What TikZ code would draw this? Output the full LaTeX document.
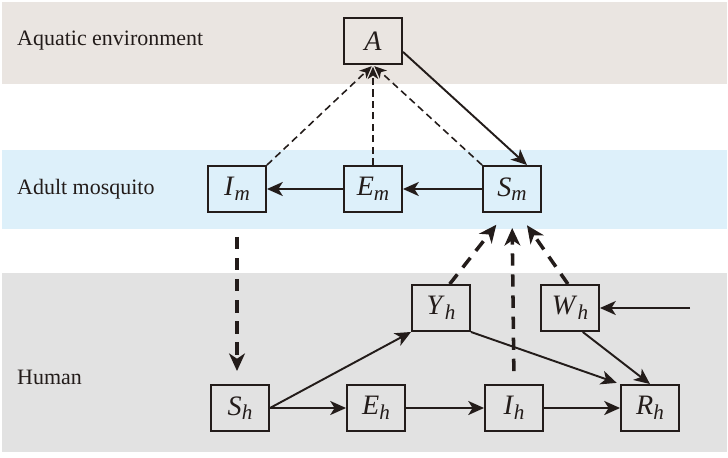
\documentclass[tikz,border=0pt]{standalone}
\usepackage{fontspec}
\setmainfont{Liberation Serif}
\usetikzlibrary{positioning}
\usetikzlibrary{arrows.meta}

\definecolor{aquabg}{RGB}{234,229,225}
\definecolor{mosqbg}{RGB}{221,240,250}
\definecolor{humanbg}{RGB}{226,226,226}
\definecolor{inkcol}{RGB}{35,28,26}
\newcommand{\comp}[2]{\textit{#1}\raisebox{-0.35ex}{\fontsize{12}{14}\selectfont\textit{#2}}}

\begin{document}
\begin{tikzpicture}
\tikzstyle{compart}=[draw=inkcol,line width=1.1pt,minimum width=1.16cm,minimum height=0.92cm,inner sep=0pt,text=inkcol,font=\fontsize{16}{18}\selectfont]
\tikzstyle{flow}=[line width=1.1pt,draw=inkcol,-{Stealth[length=9pt,width=8pt,inset=2.5pt]}]
\tikzstyle{contact}=[line width=0.9pt,draw=inkcol,dash pattern=on 4pt off 2.5pt,-{Stealth[length=7pt,width=6pt,inset=2pt]}]
\tikzstyle{bite}=[line width=2pt,draw=inkcol,dash pattern=on 7pt off 5pt,-{Stealth[length=10pt,width=9pt,inset=3pt]}]
\tikzstyle{bandlabel}=[anchor=west,text=inkcol,font=\fontsize{12.5}{15}\selectfont]
\useasboundingbox (0,0) rectangle (14.56,9.14);
%%%%%%%%%%%%%%%%%%%%%%%%%%%%%%%%%%%%%%%%%%%%%%%%%%%%%%%%%%%%%%%%%%%%%%%%%%%%%%%%%%%%%%%%
%% Draw Bands
%%%%%%%%%%%%%%%%%%%%%%%%%%%%%%%%%%%%%%%%%%%%%%%%%%%%%%%%%%%%%%%%%%%%%%%%%%%%%%%%%%%%%%%%
\fill[aquabg] (0.04,7.46) rectangle (14.54,9.1);
\fill[mosqbg] (0.04,4.56) rectangle (14.54,6.14);
\fill[humanbg] (0.04,0.1) rectangle (14.54,3.68);
\node[bandlabel] (aqualbl) at (0.22,8.32) {Aquatic environment};
\node[bandlabel] (mosqlbl) at (0.22,5.36) {Adult mosquito};
\node[bandlabel] (humanlbl) at (0.22,1.6) {Human};
%%%%%%%%%%%%%%%%%%%%%%%%%%%%%%%%%%%%%%%%%%%%%%%%%%%%%%%%%%%%%%%%%%%%%%%%%%%%%%%%%%%%%%%%
%% Draw Compartments
%%%%%%%%%%%%%%%%%%%%%%%%%%%%%%%%%%%%%%%%%%%%%%%%%%%%%%%%%%%%%%%%%%%%%%%%%%%%%%%%%%%%%%%%
% aquatic stage
\node[compart] (A) at (7.46,8.32) {\textit{A}};
% mosquito
\node[compart] (Im) at (4.74,5.36) {\comp{I}{m}};
\node[compart] (Em) at (7.46,5.36) {\comp{E}{m}};
\node[compart] (Sm) at (10.24,5.36) {\comp{S}{m}};
% human
\node[compart] (Yh) at (8.82,2.98) {\comp{Y}{h}};
\node[compart] (Wh) at (11.40,2.98) {\comp{W}{h}};
\node[compart] (Sh) at (4.80,0.98) {\comp{S}{h}};
\node[compart] (Eh) at (7.52,0.98) {\comp{E}{h}};
\node[compart] (Ih) at (10.28,0.98) {\comp{I}{h}};
\node[compart] (Rh) at (13.00,0.98) {\comp{R}{h}};
\coordinate (Win) at (13.8,2.98);
%%%%%%%%%%%%%%%%%%%%%%%%%%%%%%%%%%%%%%%%%%%%%%%%%%%%%%%%%%%%%%%%%%%%%%%%%%%%%%%%%%%%%%%%

%%%%%%%%%%%%%%%%%%%%%%%%%%%%%%%%%%%%%%%%%%%%%%%%%%%%%%%%%%%%%%%%%%%%%%%%%%%%%%%%%%%%%%%%
%%% Draw connections
%%%%%%%%%%%%%%%%%%%%%%%%%%%%%%%%%%%%%%%%%%%%%%%%%%%%%%%%%%%%%%%%%%%%%%%%%%%%%%%%%%%%%%%%
% egg laying back to the water
\draw[contact,shorten >=1pt] (Im.north east) -- (A.south);
\draw[contact,shorten >=1pt] (Em.north) -- (A.south);
\draw[contact,shorten >=1pt] (Sm.north west) -- (A.south);
\draw[flow] (A.-20) -- (Sm.58);
% mosquito stages
\draw[flow] (Sm) -- (Em);
\draw[flow] (Em) -- (Im);
% bites
\draw[bite,shorten <=0.48cm,shorten >=0.26cm] (Im.south) -- (Im.south |- Sh.north);
\draw[bite,shorten >=0.3cm] (Yh.70) -- (Sm.-105);
\draw[bite,shorten <=0.26cm,shorten >=0.3cm] (Ih.north) -- (Sm.south);
\draw[bite,shorten >=0.3cm] (Wh.95) -- (Sm.-75);
% human stages
\draw[flow] (Sh) -- (Eh);
\draw[flow] (Eh) -- (Ih);
\draw[flow] (Ih) -- (Rh);
\draw[flow] (Sh.east) -- (Yh.south west);
\draw[flow,shorten >=2pt] (Yh.south east) -- (Rh.north west);
\draw[flow] (Wh.-62) -- (Rh.north);
\draw[flow] (Win) -- (Wh.east);
%%%%%%%%%%%%%%%%%%%%%%%%%%%%%%%%%%%%%%%%%%%%%%%%%%%%%%%%%%%%%%%%%%%%%%%%%%%%%%%%%%%%%%%%

\end{tikzpicture}
\end{document}
